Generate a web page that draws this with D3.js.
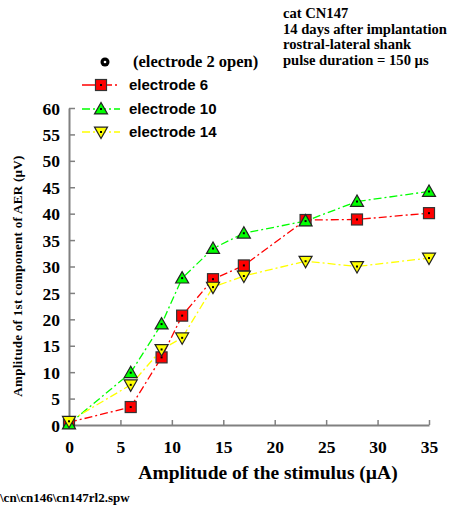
<!DOCTYPE html>
<html>
<head>
<meta charset="utf-8">
<script src="https://cdn.jsdelivr.net/npm/d3@7"></script>
<style>
  body { margin: 0; background: #fff; }
  svg { display: block; }
  .tnr { font-family: "Liberation Serif", "Times New Roman", serif; font-weight: bold; }
  .ari { font-family: "Liberation Sans", Arial, sans-serif; font-weight: bold; }
</style>
</head>
<body>
<div class="graph"></div>
<script>
// stimulus amplitude (µA)
const stimulus = [0, 6, 9, 11, 14, 17, 23, 28, 35];
const electrode6 = [0.5, 3.4, 12.8, 20.7, 27.6, 30.2, 38.8, 38.9, 40.1];
const electrode10 = [0.2, 9.9, 19.1, 27.8, 33.4, 36.3, 38.6, 42.3, 44.2];
const electrode14 = [0.7, 7.6, 14.3, 16.5, 26.1, 28.2, 31.0, 30.0, 31.6];
const xTicks = [0, 5, 10, 15, 20, 25, 30, 35];
const yTicks = [0, 5, 10, 15, 20, 25, 30, 35, 40, 45, 50, 55, 60];
const infoLines = ["cat CN147", "14 days after implantation", "rostral-lateral shank", "pulse duration = 150 \u00b5s"];

const series = [
    { name: "electrode 6", values: electrode6, color: "#ff0000", shape: "square" },
    { name: "electrode 10", values: electrode10, color: "#00ff00", shape: "up" },
    { name: "electrode 14", values: electrode14, color: "#ffff00", shape: "down" }
];

const outerWidth = 449, outerHeight = 510;
const svg = d3.select(".graph").append("svg")
    .attr("width", outerWidth)
    .attr("height", outerHeight);

const x = d3.scaleLinear().domain([0, 35]).range([69, 429]);
const y = d3.scaleLinear().domain([0, 60]).range([425, 108]);

// axes
const xAxis = svg.append("g")
    .attr("transform", `translate(0,${y(0)})`)
    .call(d3.axisBottom(x).tickValues(xTicks).tickSize(-5).tickPadding(12).tickSizeOuter(0));
const yAxis = svg.append("g")
    .attr("transform", `translate(${x(0)},0)`)
    .call(d3.axisLeft(y).tickValues(yTicks).tickSize(-6).tickPadding(9).tickSizeOuter(0));

[xAxis, yAxis].forEach(ax => {
    ax.select(".domain").attr("stroke", "#808080").attr("stroke-width", 2);
    ax.selectAll(".tick line").attr("stroke", "#808080").attr("stroke-width", 1.5);
    ax.selectAll(".tick text")
        .attr("class", "tnr")
        .attr("fill", "#000")
        .style("font-size", "17.5px");
});
xAxis.selectAll(".tick text").attr("dy", "0.9em");
yAxis.selectAll(".tick text").attr("dy", "0.35em");

function drawMarker(g, shape, color, cx, cy) {
    if (shape === "square") {
        g.append("rect")
            .attr("x", cx - 5.5).attr("y", cy - 5.5)
            .attr("width", 11).attr("height", 11)
            .attr("fill", color).attr("stroke", "#333").attr("stroke-width", 1.2);
    } else {
        const s = 6.5, up = shape === "up" ? 1 : -1;
        const pts = [[cx, cy - up * s], [cx - s, cy + up * s * 0.75], [cx + s, cy + up * s * 0.75]];
        g.append("path")
            .attr("d", "M" + pts.map(p => p.join(",")).join("L") + "Z")
            .attr("fill", color).attr("stroke", "#222").attr("stroke-width", 1.2);
    }
    g.append("rect")
        .attr("x", cx - 1).attr("y", cy - 1)
        .attr("width", 2).attr("height", 2)
        .attr("fill", "#000");
}

const line = d3.line()
    .x((d, i) => x(stimulus[i]))
    .y(d => y(d));

series.forEach(s => {
    svg.append("path")
        .datum(s.values)
        .attr("d", line)
        .attr("fill", "none")
        .attr("stroke", s.color)
        .attr("stroke-width", 1.3)
        .attr("stroke-dasharray", "8,3,2,3");
});
series.forEach(s => {
    const g = svg.append("g");
    s.values.forEach((v, i) => drawMarker(g, s.shape, s.color, x(stimulus[i]), y(v)));
});

// legend
svg.append("circle").attr("cx", 105).attr("cy", 62).attr("r", 4.5).attr("fill", "#000");
svg.append("circle").attr("cx", 105).attr("cy", 62).attr("r", 1.3).attr("fill", "#fff");
svg.append("text").attr("class", "tnr").attr("x", 133).attr("y", 67)
    .style("font-size", "16.5px").text("(electrode 2 open)");

const legendY = [85, 109, 132];
series.forEach((s, i) => {
    const g = svg.append("g");
    g.append("line")
        .attr("x1", 82).attr("x2", 120)
        .attr("y1", legendY[i]).attr("y2", legendY[i])
        .attr("stroke", s.color).attr("stroke-width", 1.3)
        .attr("stroke-dasharray", i === 0 ? "30,3,2,3" : "8,3,2,3");
    drawMarker(g, s.shape, s.color, 101, legendY[i]);
    g.append("text").attr("class", "ari")
        .attr("x", 129).attr("y", legendY[i] + 5)
        .style("font-size", "15px").text(s.name);
});

// info block
svg.append("g").selectAll("text").data(infoLines).join("text")
    .attr("class", "tnr")
    .attr("x", 283)
    .attr("y", (d, i) => 18 + i * 15.5)
    .style("font-size", "14.6px")
    .text(d => d);

// axis titles
svg.append("text").attr("class", "tnr")
    .attr("x", 268).attr("y", 479)
    .attr("text-anchor", "middle")
    .style("font-size", "19.5px")
    .text("Amplitude of the stimulus (\u00b5A)");

const yTitle = svg.append("text").attr("class", "tnr")
    .attr("transform", "translate(22,276) rotate(-90)")
    .attr("text-anchor", "middle")
    .style("font-size", "13px")
    .style("letter-spacing", "0.3px");
yTitle.append("tspan").text("Amplitude of 1st  component of AER (\u00b5V)");

// file path
svg.append("text").attr("class", "tnr")
    .attr("x", 0).attr("y", 502)
    .style("font-size", "13px")
    .text("\\cn\\cn146\\cn147rl2.spw");
</script>
</body>
</html>
